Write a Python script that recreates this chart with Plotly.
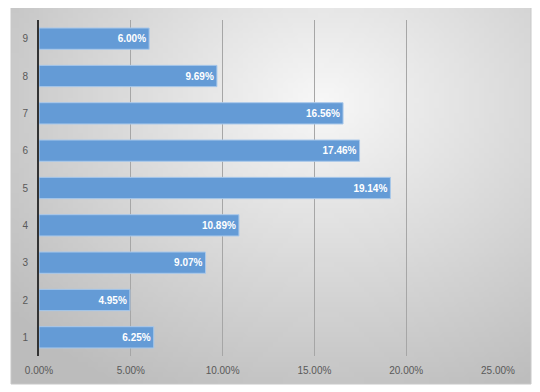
import base64, struct, zlib, math
import plotly.graph_objects as go

categories = ["1", "2", "3", "4", "5", "6", "7", "8", "9"]
values = [0.0625, 0.0495, 0.0907, 0.1089, 0.1914, 0.1746, 0.1656, 0.0969, 0.0600]
x_ticks = [0, 0.05, 0.10, 0.15, 0.20, 0.25]
x_tick_labels = ["0.00%", "5.00%", "10.00%", "15.00%", "20.00%", "25.00%"]


def gradient_png(w=104, h=76):
    rows = []
    cx, cy = 0.6, 0.25
    for j in range(h):
        row = bytearray([0])
        for i in range(w):
            dx = (i / (w - 1) - cx) * 1.0
            dy = (j / (h - 1) - cy) * 0.9
            d = math.sqrt(dx * dx + dy * dy)
            t = min(d / 0.8, 1.0)
            v = int(248 - t * 60)
            row += bytes([v, v, v])
        rows.append(bytes(row))
    raw = b"".join(rows)

    def chunk(tag, data):
        c = struct.pack(">I", len(data)) + tag + data
        return c + struct.pack(">I", zlib.crc32(tag + data) & 0xFFFFFFFF)

    png = b"\x89PNG\r\n\x1a\n"
    png += chunk(b"IHDR", struct.pack(">IIBBBBB", w, h, 8, 2, 0, 0, 0))
    png += chunk(b"IDAT", zlib.compress(raw, 9))
    png += chunk(b"IEND", b"")
    return "data:image/png;base64," + base64.b64encode(png).decode()


OFF = 8  # page body margin offset
W, H = 540, 392
L, R, T, B = 39 - OFF, 498 - OFF, 20 - OFF, 356 - OFF
pw, ph = R - L, B - T


def px(xp):
    return (xp - OFF - L) / pw


def py(yp):
    return (B - (yp - OFF)) / ph


fig = go.Figure()
fig.add_trace(go.Bar(
    y=categories, x=values, orientation="h",
    width=0.57,
    marker=dict(color="#649bd6", line=dict(color="#a9c8ea", width=1)),
    texttemplate="<b>%{x:.2%}</b>", textposition="inside", insidetextanchor="end",
    textfont=dict(color="white", size=10, family="Liberation Sans"),
    hoverinfo="skip",
))

fig.update_layout(
    width=W, height=H,
    margin=dict(l=L, r=W - R, t=T, b=H - B, autoexpand=False),
    paper_bgcolor="white", plot_bgcolor="rgba(0,0,0,0)",
    showlegend=False,
    font=dict(family="Liberation Sans", size=10, color="#595959"),
    xaxis=dict(range=[0, 0.25], tickvals=x_ticks, ticktext=x_tick_labels,
               showgrid=True, gridcolor="#a6a6a6", gridwidth=1,
               zeroline=False, showline=False, ticks="", ticklabelstandoff=7,
               automargin=False,
               tickfont=dict(size=10, color="#595959")),
    yaxis=dict(range=[-0.5, 8.5], type="category", showgrid=False,
               showline=True, linecolor="#333333", linewidth=2,
               ticks="", ticklabelstandoff=7, automargin=False,
               tickfont=dict(size=10, color="#595959")),
    images=[dict(source=gradient_png(), xref="paper", yref="paper",
                 x=px(11), y=py(6), sizex=px(531) - px(11), sizey=py(6) - py(384),
                 xanchor="left", yanchor="top", sizing="stretch", layer="below")],
    shapes=[dict(type="rect", xref="paper", yref="paper",
                 x0=px(11), x1=px(531), y0=py(384), y1=py(6),
                 line=dict(color="#c8c8c8", width=1), layer="below")],
)
fig.write_html("out.html")
